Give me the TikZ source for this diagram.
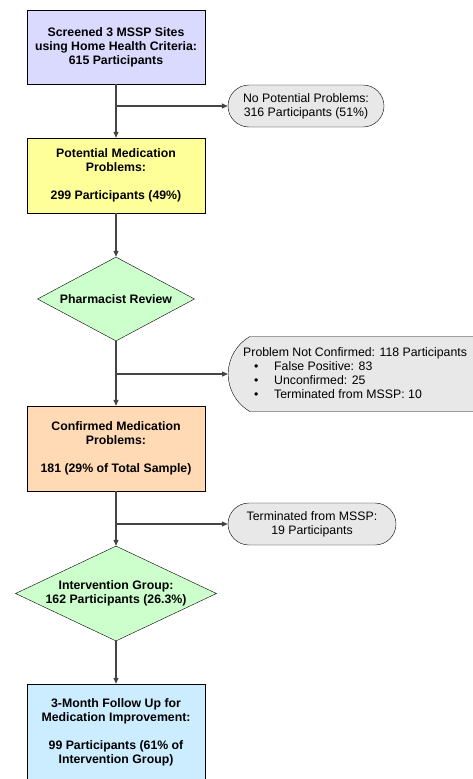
\documentclass[tikz,border=0pt]{standalone}
\usepackage{fontspec}
\setmainfont{Liberation Sans}
\usetikzlibrary{shapes.geometric,shapes.misc,arrows.meta}
\definecolor{screencol}{HTML}{DADAFF}
\definecolor{potcol}{HTML}{FFFF99}
\definecolor{reviewcol}{HTML}{CCFFCC}
\definecolor{confcol}{HTML}{FFDAB4}
\definecolor{followcol}{HTML}{CCECFF}
\definecolor{sidecol}{HTML}{E8E8E8}
\definecolor{linecol}{HTML}{454545}
% arrow from the main line out to a side box
\newcommand{\branch}[3]{
  \coordinate (#1) at (#2.south |- #3.west);
  \draw[flow] (#1) -- (#3);
}

\begin{document}
\begin{tikzpicture}[x=1pt,y=-1pt,
  txt/.style={font=\fontsize{12.3}{14}\selectfont},
  box/.style={draw,txt,font=\fontsize{12.3}{14}\selectfont\bfseries,align=center,
    minimum width=178pt,minimum height=#1,inner sep=0pt},
  decision/.style={draw,diamond,txt,font=\fontsize{12.3}{14}\selectfont\bfseries,
    align=center,inner sep=0pt,fill=reviewcol},
  sidebox/.style={draw,rounded rectangle,txt,align=center,inner sep=0pt,fill=sidecol},
  flow/.style={draw=linecol,line width=1.2pt,-{Triangle[length=6pt,width=5pt]}}]
\clip (0,0) rectangle (473,779);
% main column
\node[box=74pt,fill=screencol] (screen) at (116,47)
  {Screened 3 MSSP Sites\\using Home Health Criteria:\\615 Participants};
\node[box=75pt,fill=potcol] (potential) at (116,175.5)
  {Potential Medication\\Problems:\\[14pt]299 Participants (49\%)};
\node[decision,aspect=1.87,minimum width=157pt,minimum height=84pt] (review) at (116,299)
  {Pharmacist Review};
\node[box=85pt,fill=confcol] (confirmed) at (116,448.5)
  {Confirmed Medication\\Problems:\\[14pt]181 (29\% of Total Sample)};
\node[decision,aspect=2.1,minimum width=201pt,minimum height=95pt] (intervention) at (116,593.5)
  {Intervention Group:\\162 Participants (26.3\%)};
\node[box=96pt,fill=followcol] (followup) at (116,732)
  {3-Month Follow Up for\\Medication Improvement:\\[14pt]99 Participants (61\% of\\Intervention Group)};
% side boxes
\node[sidebox,minimum width=156pt,minimum height=42pt] (nopot) at (306,106)
  {No Potential Problems:\\316 Participants (51\%)};
\node[sidebox,rounded rectangle arc length=120,minimum width=270pt,minimum height=75pt,
  anchor=west] (notconf) at (228,374) {};
\node[txt,anchor=west,align=left,inner sep=0pt] (notconftxt) at (243,373)
  {Problem Not Confirmed: 118 Participants\\
   \hspace*{11pt}\makebox[20pt][l]{\textbullet}False Positive: 83\\
   \hspace*{11pt}\makebox[20pt][l]{\textbullet}Unconfirmed: 25\\
   \hspace*{11pt}\makebox[20pt][l]{\textbullet}Terminated from MSSP: 10};
\node[sidebox,minimum width=168pt,minimum height=42pt] (termin) at (312,524)
  {Terminated from MSSP:\\19 Participants};
% connectors
\draw[flow] (screen) -- (potential);
\draw[flow] (potential) -- (review);
\draw[flow] (review) -- (confirmed);
\draw[flow] (confirmed) -- (intervention);
\draw[flow] (intervention) -- (followup);
\branch{fork1}{screen}{nopot}
\branch{fork2}{review}{notconf}
\branch{fork3}{confirmed}{termin}
\end{tikzpicture}
\end{document}
